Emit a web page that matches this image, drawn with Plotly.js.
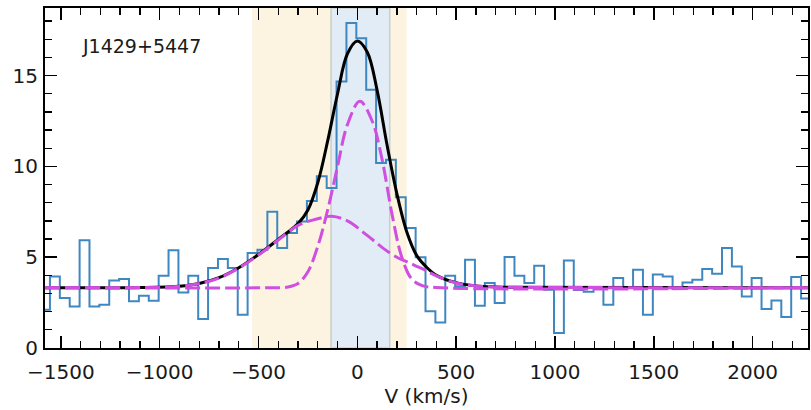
<!DOCTYPE html>
<html>
<head>
<meta charset="utf-8">
<script src="https://cdn.plot.ly/plotly-3.0.1.min.js"></script>
<style>html,body{margin:0;padding:0;background:#fff;}#chart{width:811px;height:410px;}</style>
</head>
<body>
<div id="chart"></div>
<script>
// Spectrum bins (km/s) and flux
const binCenters = [-1580,-1530,-1480,-1430,-1380,-1330,-1280,-1230,-1180,-1130,-1080,-1030,-980,-930,-880,-830,-780,-730,-680,-630,-580,-530,-480,-430,-380,-330,-280,-230,-180,-130,-80,-30,20,70,120,170,220,270,320,370,420,470,520,570,620,670,720,770,820,870,920,970,1020,1070,1120,1170,1220,1270,1320,1370,1420,1470,1520,1570,1620,1670,1720,1770,1820,1870,1920,1970,2020,2070,2120,2170,2220,2270];
const binWidth = 50;
const flux = [2.10,3.94,2.75,2.29,5.93,2.29,2.38,3.72,3.80,2.57,2.88,2.60,3.98,5.38,3.06,3.98,1.60,4.40,4.90,4.40,1.83,5.23,5.41,7.50,5.51,6.33,6.97,8.10,9.45,8.81,14.68,17.90,17.05,14.22,10.19,10.37,8.30,6.61,5.00,2.02,1.41,3.98,3.40,4.86,2.33,3.58,2.48,5.01,3.98,3.58,4.53,3.21,0.83,4.82,3.20,3.10,3.30,2.38,3.85,3.30,4.31,1.83,4.04,3.94,3.25,3.61,3.76,4.35,4.09,5.51,4.49,2.84,3.85,2.15,2.62,1.71,3.91,2.73];

// Model curves
const totalV    = [-1580,-1100,-900,-800,-700,-600,-500,-400,-300,-250,-200,-150,-100,-50,0,50,100,150,200,250,300,350,400,500,600,700,800,2280];
const totalFlux = [3.32,3.33,3.40,3.55,3.87,4.42,5.15,5.98,6.85,7.6,9.1,11.4,14.0,16.2,16.9,16.3,14.2,11.2,8.5,6.4,5.1,4.45,4.0,3.6,3.42,3.36,3.34,3.32];

const broadV    = [-1580,-1100,-900,-800,-700,-600,-500,-400,-300,-200,-130,-50,50,130,200,250,300,350,400,500,600,700,800,2280];
const broadFlux = [3.32,3.33,3.40,3.55,3.85,4.40,5.12,5.95,6.75,7.12,7.25,7.0,6.2,5.5,5.0,4.75,4.5,4.25,3.97,3.58,3.42,3.36,3.34,3.32];

const narrowV    = [-1580,-450,-350,-300,-250,-200,-150,-100,-50,13,75,125,175,225,275,325,400,2280];
const narrowFlux = [3.32,3.32,3.36,3.55,4.2,5.6,7.6,10.0,12.3,13.58,12.5,10.4,7.4,5.0,3.8,3.45,3.33,3.32];

// Velocity windows
const wideWindow = [-532, 250];
const coreWindow = [-133, 164];

const label = 'J1429+5447';
const xTitle = 'V (km/s)';

// Build step outline from bins
const stepX = binCenters.map(c => c - binWidth/2).concat([binCenters[binCenters.length-1] + binWidth/2]);
const stepY = flux.concat([flux[flux.length-1]]);

const magenta = '#d04fe0';
const traces = [
  {x: stepX, y: stepY, type: 'scatter', mode: 'lines', line: {shape: 'hv', color: '#3f87c0', width: 2}, hoverinfo: 'skip'},
  {x: totalV, y: totalFlux, type: 'scatter', mode: 'lines', line: {shape: 'spline', smoothing: 1, color: '#000', width: 3}},
  {x: broadV, y: broadFlux, type: 'scatter', mode: 'lines', line: {shape: 'spline', smoothing: 1, color: magenta, width: 3, dash: '15px,5px'}},
  {x: narrowV, y: narrowFlux, type: 'scatter', mode: 'lines', line: {shape: 'spline', smoothing: 1, color: magenta, width: 3, dash: '15px,5px'}}
];

const fontFam = 'DejaVu Sans, sans-serif';
const layout = {
  width: 811, height: 410,
  margin: {l: 45, r: 3, t: 8, b: 62},
  paper_bgcolor: '#fff', plot_bgcolor: '#fff',
  showlegend: false,
  font: {family: fontFam, size: 20, color: '#1a1a1a'},
  xaxis: {
    range: [-1580, 2280], showgrid: false, zeroline: false,
    showline: true, linecolor: '#000', linewidth: 2, mirror: 'allticks',
    ticks: 'inside', ticklen: 12, tickwidth: 1.6, tickcolor: '#000',
    dtick: 500, tick0: 0, ticklabelstandoff: 5,
    minor: {ticks: 'inside', ticklen: 7, tickwidth: 1.3, dtick: 100, tickcolor: '#000', showgrid: false},
    tickfont: {size: 20},
    title: {text: xTitle, font: {size: 20}, standoff: 4}
  },
  yaxis: {
    range: [0, 18.72], showgrid: false, zeroline: false,
    showline: true, linecolor: '#000', linewidth: 2, mirror: 'allticks',
    ticks: 'inside', ticklen: 12, tickwidth: 1.6, tickcolor: '#000',
    dtick: 5, tick0: 0, ticklabelstandoff: 1,
    minor: {ticks: 'inside', ticklen: 7, tickwidth: 1.3, dtick: 1, tickcolor: '#000', showgrid: false},
    tickfont: {size: 20}
  },
  shapes: [
    {type: 'rect', xref: 'x', yref: 'paper', x0: wideWindow[0], x1: wideWindow[1], y0: 0, y1: 1, fillcolor: '#fcf4e1', line: {width: 0}, layer: 'below'},
    {type: 'rect', xref: 'x', yref: 'paper', x0: coreWindow[0], x1: coreWindow[1], y0: 0, y1: 1, fillcolor: '#e2ecf7', line: {width: 1.5, color: '#c9cfc8'}, layer: 'below'}
  ],
  annotations: [
    {text: label, xref: 'paper', yref: 'paper', x: 0.046, y: 0.888, xanchor: 'left', yanchor: 'middle', showarrow: false, font: {size: 19, color: '#1a1a1a'}}
  ]
};

Plotly.newPlot('chart', traces, layout, {staticPlot: true, displayModeBar: false});
</script>
</body>
</html>
